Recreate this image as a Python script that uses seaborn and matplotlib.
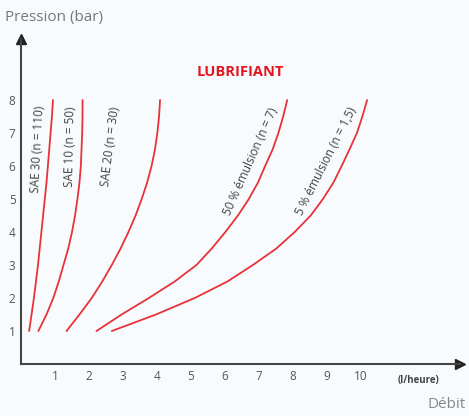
import matplotlib.pyplot as plt
import pandas as pd
import seaborn as sns

# Données (pression en bar, débit en l/heure)
pression = [1, 1.5, 2, 2.5, 3, 3.5, 4, 4.5, 5, 5.5, 6, 6.5, 7, 7.5, 8]
debit_sae30 = [0.24, 0.31, 0.38, 0.44, 0.50, 0.55, 0.60, 0.65, 0.70, 0.75, 0.79, 0.83, 0.87, 0.91, 0.94]
debit_sae10 = [0.51, 0.75, 0.95, 1.11, 1.25, 1.39, 1.50, 1.59, 1.66, 1.72, 1.76, 1.78, 1.80, 1.81, 1.81]
debit_sae20 = [1.34, 1.72, 2.08, 2.39, 2.67, 2.93, 3.16, 3.37, 3.55, 3.71, 3.84, 3.94, 4.01, 4.06, 4.09]
debit_emul50 = [2.22, 2.96, 3.76, 4.52, 5.16, 5.61, 6.01, 6.38, 6.70, 6.97, 7.18, 7.40, 7.57, 7.71, 7.83]
debit_emul5 = [2.67, 3.97, 5.11, 6.07, 6.82, 7.51, 8.05, 8.52, 8.88, 9.19, 9.43, 9.66, 9.88, 10.04, 10.18]

courbes = ["SAE 30 (n = 110)", "SAE 10 (n = 50)", "SAE 20 (n = 30)",
           "50 % émulsion (n = 7)", "5 % émulsion (n = 1,5)"]
x_ticks = [1, 2, 3, 4, 5, 6, 7, 8, 9, 10, 11, 12]
x_labels = ["1", "2", "3", "4", "5", "6", "7", "8", "9", "10", "", ""]
y_ticks = [1, 2, 3, 4, 5, 6, 7, 8, 9]
y_labels = ["1", "2", "3", "4", "5", "6", "7", "8", ""]

df = pd.concat([
    pd.DataFrame({"Débit": d, "Pression": pression, "Courbe": c})
    for d, c in zip([debit_sae30, debit_sae10, debit_sae20, debit_emul50, debit_emul5], courbes)
])

sns.set_style("white")
plt.rcParams['font.family'] = ['Open Sans', 'DejaVu Sans']

fond = "#f7fbfd"
fig = plt.figure(figsize=(4.69, 4.16), dpi=100, facecolor=fond)
ax = fig.add_axes([21 / 469, 52 / 416, 438.6 / 469, 325 / 416])
ax.set_facecolor(fond)

sns.lineplot(data=df, x="Débit", y="Pression", units="Courbe", estimator=None,
             sort=False, color="#e8323a", linewidth=1.3, ax=ax)

ax.set_xlim(0, 12.9)
ax.set_ylim(0, 9.85)
ax.set_xticks(x_ticks)
ax.set_xticklabels(x_labels)
ax.set_yticks(y_ticks)
ax.set_yticklabels(y_labels)
ax.tick_params(axis="both", direction="in", length=5, width=1.3, color="#444",
               labelsize=8.5, labelcolor="#555", pad=4)
ax.set_xlabel("")
ax.set_ylabel("")
for s in ["top", "right"]:
    ax.spines[s].set_visible(False)
for s in ["left", "bottom"]:
    ax.spines[s].set_color("#444")
    ax.spines[s].set_linewidth(1.5)

# Flèches des axes
ax.plot(1, 0, ">", color="#222", markersize=7, transform=ax.get_yaxis_transform(), clip_on=False)
ax.plot(0, 1, "^", color="#222", markersize=7, transform=ax.get_xaxis_transform(), clip_on=False)

# Étiquettes des courbes
labels_pos = [(0.50, 6.5, 87), (1.46, 6.6, 89), (2.64, 6.6, 83), (6.76, 6.15, 66), (8.97, 6.15, 63)]
for txt, (x, y, r) in zip(courbes, labels_pos):
    ax.text(x, y, txt, rotation=r, rotation_mode="anchor", ha="center", va="center",
            fontsize=8.5, color="#444")

ax.text(6.45, 8.85, "LUBRIFIANT", color="#e3161f", fontsize=10.5, fontweight="bold",
        ha="center", va="center")

fig.text(5 / 469, 1 - 17 / 416, "Pression (bar)", fontsize=11, color="#777", ha="left", va="center")
fig.text(466 / 469, 1 - 405 / 416, "Débit", fontsize=11, color="#888", ha="right", va="center")
fig.text(418 / 469, 1 - 380 / 416, "(l/heure)", fontsize=7, color="#444", fontweight="bold",
         ha="center", va="center")

plt.savefig("out.png", dpi=100, facecolor=fond)
